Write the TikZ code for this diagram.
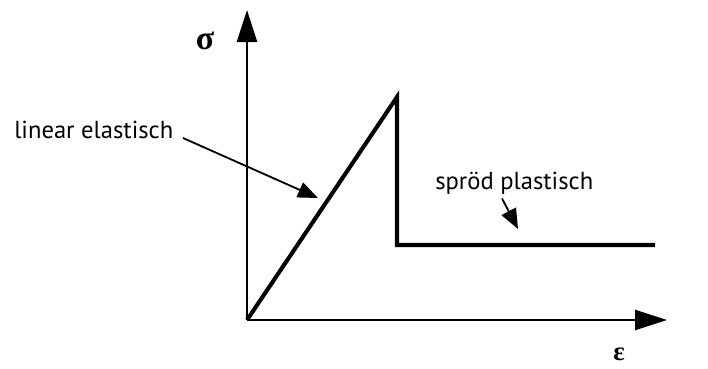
\documentclass[tikz,border=0pt]{standalone}
\usepackage{fontspec}
\setmainfont{PT Sans}
\newfontfamily\grkfont{Liberation Serif}
\usetikzlibrary{arrows.meta, positioning}

\begin{document}
\begin{tikzpicture}[x=0.025cm, y=-0.025cm,
    axis/.style={-{Triangle[length=8mm, width=5mm]}, line width=1.8pt, black},
    curve/.style={line width=2.9pt, black},
    arr/.style={-{Triangle[length=5mm, width=4mm]}, line width=1.3pt, black},
    lbl/.style={font=\fontsize{17.5}{20}\selectfont, inner sep=0pt},
    sym/.style={font=\grkfont\bfseries\fontsize{24}{26}\selectfont, inner sep=0pt},
]
\useasboundingbox (0,0) rectangle (708,368);

% ========== AXES ==========
\coordinate (orig) at (247,320);
\coordinate (ytip) at (247,10);
\coordinate (xtip) at (667,320);
\draw[axis] (orig) -- (ytip);
\draw[axis] (orig) -- (xtip);
\node[sym] at (205,41) (sig) {σ};
\node[sym, font=\grkfont\bfseries\fontsize{19}{21}\selectfont] at (619,354) (eps) {ε};

% ========== CURVE ==========
\coordinate (peak) at (397,97);
\coordinate (drop) at (397,245);
\coordinate (tail) at (655,245);
\draw[curve] (orig) -- (peak) -- (drop) -- (tail);

% ========== LABELS ==========
\node[lbl, anchor=west] at (14,130) (elast) {linear elastisch};
\coordinate (elastp) at (318,198);
\draw[arr] (183,138) -- (elastp);

\node[lbl, anchor=west] at (435,183) (plast) {spröd plastisch};
\coordinate (plastp) at (518,229);
\draw[arr] (plast.south -| 502,0) ++(0,4) -- (plastp);

\end{tikzpicture}
\end{document}
